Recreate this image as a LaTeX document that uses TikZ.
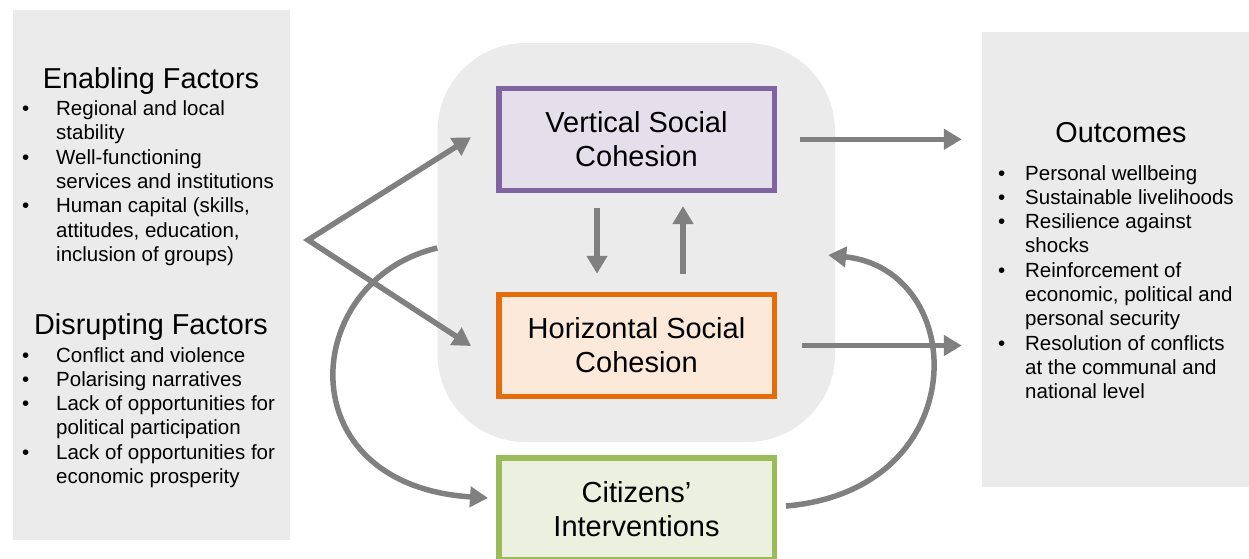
\documentclass[tikz,border=0pt]{standalone}
\usepackage{fontspec}
\setmainfont{Liberation Sans}
\usetikzlibrary{arrows.meta,calc}
\definecolor{panelgray}{HTML}{EBEBEB}
\definecolor{arrowgray}{HTML}{808080}
\definecolor{vline}{HTML}{8064A2}
\definecolor{vfill}{HTML}{E5DFEC}
\definecolor{hline}{HTML}{E46C0A}
\definecolor{hfill}{HTML}{FDE9D9}
\definecolor{cline}{HTML}{9BBB59}
\definecolor{cfill}{HTML}{EBF1DE}
\begin{document}
\begin{tikzpicture}[x=1pt,y=-1pt,
  panel/.style={fill=panelgray, draw=none, inner sep=0pt},
  cbox/.style={minimum width=275.5pt, minimum height=102pt, line width=5.5pt,
    inner sep=0pt, align=center, font=\fontsize{29}{34}\selectfont},
  heading/.style={anchor=base, inner sep=0pt, font=\fontsize{28.8}{34}\selectfont},
  items/.style={anchor=base west, inner sep=0pt, font=\fontsize{20.5}{24.3}\selectfont},
  arr/.style={draw=arrowgray, line width=5.5pt, -{Triangle[length=18pt,width=20pt]}},
  dblarr/.style={draw=arrowgray, line width=5.5pt, {Triangle[length=18pt,width=20pt]}-{Triangle[length=18pt,width=20pt]}},
]
\useasboundingbox (0,0) rectangle (1249,558);
\clip (0,0) rectangle (1249,558);

% side panels
\node[panel, minimum width=277pt, minimum height=530pt] (factors) at (151.5,275) {};
\node[panel, minimum width=270pt, minimum height=455pt] (outc) at (1117,259.5) {};

% grey core holding the two cohesion boxes
\node[panel, rounded corners=88pt, minimum width=397.5pt, minimum height=399pt] (core) at (636.25,242.5) {};

% cohesion and intervention boxes
\node[cbox, draw=vline, fill=vfill] (vert) at (636.5,139.3) {Vertical Social\\Cohesion};
\node[cbox, draw=hline, fill=hfill] (horiz) at (636.5,345.5) {Horizontal Social\\Cohesion};
\node[cbox, draw=cline, fill=cfill] (cit) at (636.5,509) {Citizens’\\Interventions};

% factor lists
\node[heading] (enh) at (151,88) {Enabling Factors};
\node[items] (enl) at (22,115.6) {\begin{tabular}[t]{@{}p{34pt}@{}l@{}}
\textbullet & Regional and local\\
 & stability\\
\textbullet & Well-functioning\\
 & services and institutions\\
\textbullet & Human capital (skills,\\
 & attitudes, education,\\
 & inclusion of groups)
\end{tabular}};

\node[heading] (dih) at (151,334.5) {Disrupting Factors};
\node[items] (dil) at (22,362) {\begin{tabular}[t]{@{}p{34pt}@{}l@{}}
\textbullet & Conflict and violence\\
\textbullet & Polarising narratives\\
\textbullet & Lack of opportunities for\\
 & political participation\\
\textbullet & Lack of opportunities for\\
 & economic prosperity
\end{tabular}};

% outcomes list
\node[heading] (outh) at (1121,142) {Outcomes};
\node[items] (outl) at (998,180) {\begin{tabular}[t]{@{}p{27pt}@{}l@{}}
\textbullet & Personal wellbeing\\
\textbullet & Sustainable livelihoods\\
\textbullet & Resilience against\\
 & shocks\\
\textbullet & Reinforcement of\\
 & economic, political and\\
 & personal security\\
\textbullet & Resolution of conflicts\\
 & at the communal and\\
 & national level
\end{tabular}};

% connectors
\coordinate (apex) at (308,240);
\draw[dblarr] ($(vert.west)+(-25,-2)$) -- (apex) -- ($(horiz.west)+(-25,0.5)$);
\draw[arr] ($(vert.south)+(-39.5,15)$) -- ($(horiz.north)+(-39.5,-18)$);
\draw[arr] ($(horiz.north)+(46.5,-18)$) -- ($(vert.south)+(46.5,13)$);
\draw[arr] ($(vert.east)+(22.5,0)$) -- ($(outc.west |- vert.east)+(-20,0)$);
\draw[arr] ($(horiz.east)+(24.5,0)$) -- ($(outc.west |- horiz.east)+(-20,0)$);
\draw[arr] ($(core.west)+(0,5.5)$) .. controls (300,280) and (285,485) .. ($(cit.west)+(-8,-11)$);
\draw[arr] ($(cit.east)+(9,-3)$) .. controls (975,490) and (970,270) .. ($(core.east)+(-7,12.5)$);
\end{tikzpicture}
\end{document}
